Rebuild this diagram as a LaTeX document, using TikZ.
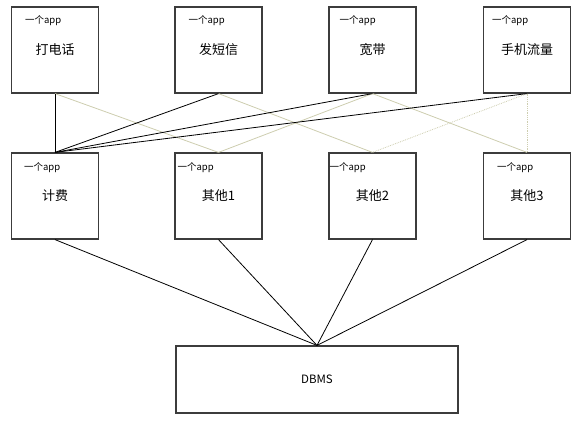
\documentclass[tikz,border=0pt]{standalone}
\usepackage{fontspec}
\setmainfont{Noto Sans CJK SC}
\usepackage{tikz}
\usetikzlibrary{positioning}
\definecolor{boxgray}{RGB}{60,60,60}
\definecolor{tan}{RGB}{205,205,175}
\tikzset{
    appbox/.style={
        draw=boxgray,
        line width=1.2pt,
        minimum width=87pt,
        minimum height=86pt,
        inner sep=0pt,
        font=\fontsize{13}{15}\selectfont
    },
    dbbox/.style={
        draw=boxgray,
        line width=1.2pt,
        minimum width=282pt,
        minimum height=67pt,
        inner sep=0pt,
        font=\fontsize{11.5}{13}\selectfont
    },
    tag/.style={inner sep=0pt, font=\fontsize{9.5}{11}\selectfont},
    link/.style={black, line width=0.8pt},
    faint/.style={tan, line width=0.8pt},
    faintdot/.style={tan, line width=0.8pt, densely dotted}
}

\begin{document}
\begin{tikzpicture}[x=1pt, y=-1pt]
    \useasboundingbox (0,0) rectangle (574,422);

    % top row
    \node[appbox] (dial) at (55,50) {打电话};
    \node[appbox] (sms) at (218.5,50) {发短信};
    \node[appbox] (broadband) at (372.5,50) {宽带};
    \node[appbox] (data) at (527,50) {手机流量};

    % middle row
    \node[appbox] (billing) at (55,196) {计费};
    \node[appbox] (other1) at (218.5,196) {其他1};
    \node[appbox] (other2) at (372.5,196) {其他2};
    \node[appbox] (other3) at (527,196) {其他3};

    \node[dbbox] (dbms) at (317,379.5) {DBMS};

    % tags
    \node[tag, below right=9pt and 14pt of dial.north west] (dial-tag) {一个app};
    \node[tag, below right=9pt and 14pt of sms.north west] (sms-tag) {一个app};
    \node[tag, below right=9pt and 11pt of broadband.north west] (broadband-tag) {一个app};
    \node[tag, below right=9pt and 9pt of data.north west] (data-tag) {一个app};
    \node[tag, below right=10pt and 13pt of billing.north west] (billing-tag) {一个app};
    \node[tag, below right=10pt and 3pt of other1.north west] (other1-tag) {一个app};
    \node[tag, below right=10pt and 1pt of other2.north west] (other2-tag) {一个app};
    \node[tag, below right=10pt and 14pt of other3.north west] (other3-tag) {一个app};

    % faint links
    \draw[faint] (dial.south) -- (other1.north);
    \draw[faint] (sms.south) -- (other2.north);
    \draw[faint] (broadband.south) -- (other1.north);
    \draw[faint] (broadband.south) -- (other3.north);
    \draw[faintdot] (data.south) -- (other2.north);
    \draw[faintdot] (data.south) -- (other3.north);

    % billing links
    \draw[link] (dial.south) -- (billing.north);
    \draw[link] (sms.south) -- (billing.north);
    \draw[link] (broadband.south) -- (billing.north);
    \draw[link] (data.south) -- (billing.north);

    % to dbms
    \draw[link] (billing.south) -- (dbms.north);
    \draw[link] (other1.south) -- (dbms.north);
    \draw[link] (other2.south) -- (dbms.north);
    \draw[link] (other3.south) -- (dbms.north);
\end{tikzpicture}
\end{document}
